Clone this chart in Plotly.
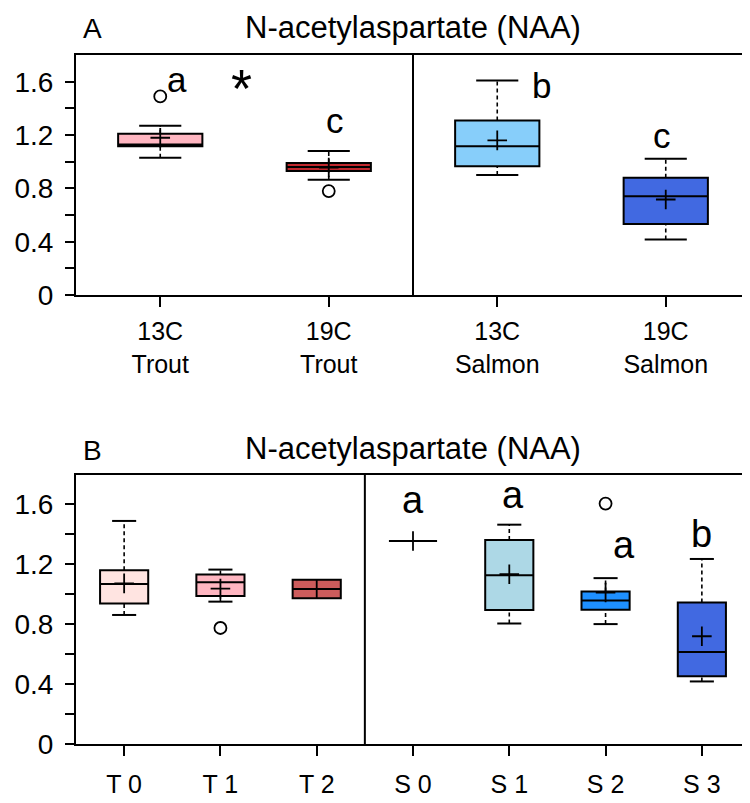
import plotly.graph_objects as go

# ---------------- Panel A data ----------------
a_labels = ["13C<br>Trout", "19C<br>Trout", "13C<br>Salmon", "19C<br>Salmon"]
a_q1 = [1.117, 0.93, 0.967, 0.533]
a_median = [1.13, 0.96, 1.117, 0.741]
a_q3 = [1.21, 0.99, 1.31, 0.881]
a_low = [1.03, 0.866, 0.90, 0.417]
a_high = [1.27, 1.08, 1.61, 1.023]
a_mean = [1.18, 0.957, 1.16, 0.717]
a_colors = ["#FFB6C1", "#C0282D", "#87CEFA", "#4169E1"]
a_out_x = [0, 1]
a_out_y = [1.49, 0.78]
a_letters = ["a", "c", "b", "c"]
a_letter_x = [0.10, 1.04, 2.26, 2.98]
a_letter_y = [1.62, 1.31, 1.57, 1.20]

# ---------------- Panel B data ----------------
b_labels = ["T 0", "T 1", "T 2", "S 0", "S 1", "S 2", "S 3"]
b_q1 = [0.938, 0.988, 0.973, 1.356, 0.895, 0.897, 0.453]
b_median = [1.069, 1.08, 1.036, 1.356, 1.128, 0.958, 0.614]
b_q3 = [1.16, 1.132, 1.097, 1.356, 1.363, 1.019, 0.945]
b_low = [0.862, 0.951, 0.973, 1.356, 0.805, 0.801, 0.418]
b_high = [1.49, 1.165, 1.097, 1.356, 1.465, 1.108, 1.236]
b_mean = [1.073, 1.038, 1.036, 1.356, 1.134, 1.012, 0.72]
b_colors = ["#FFE4E1", "#FFB6C1", "#CD5C5C", "rgba(0,0,0,0)", "#ADD8E6", "#1E90FF", "#4169E1"]
b_out_x = [1, 5]
b_out_y = [0.775, 1.606]
b_letters = ["a", "a", "a", "b"]
b_letter_x = [3.0, 4.04, 5.19, 6.0]
b_letter_y = [1.63, 1.66, 1.33, 1.40]

W, H = 750, 803
FONT = "Liberation Sans, Arial, sans-serif"
BOX_W = 0.5
CAP_HALF = 0.125

fig = go.Figure()


def add_panel(xa, ya, q1, med, q3, lo, hi, mean, colors, out_x, out_y):
    n = len(q1)
    # dashed whisker stems
    wx, wy = [], []
    for i in range(n):
        wx += [i, i, None, i, i, None]
        wy += [q3[i], hi[i], None, lo[i], q1[i], None]
    fig.add_trace(go.Scatter(x=wx, y=wy, mode="lines",
                             line=dict(color="black", width=1.6, dash="4px,3px"),
                             xaxis=xa, yaxis=ya, showlegend=False, hoverinfo="skip"))
    # whisker caps
    cx, cy = [], []
    for i in range(n):
        if hi[i] > q3[i]:
            cx += [i - CAP_HALF, i + CAP_HALF, None]
            cy += [hi[i], hi[i], None]
        if lo[i] < q1[i]:
            cx += [i - CAP_HALF, i + CAP_HALF, None]
            cy += [lo[i], lo[i], None]
    fig.add_trace(go.Scatter(x=cx, y=cy, mode="lines",
                             line=dict(color="black", width=2),
                             xaxis=xa, yaxis=ya, showlegend=False, hoverinfo="skip"))
    # boxes
    for i in range(n):
        fig.add_trace(go.Box(
            x=[i], q1=[q1[i]], median=[med[i]], q3=[q3[i]],
            lowerfence=[q1[i]], upperfence=[q3[i]],
            width=BOX_W, whiskerwidth=0,
            fillcolor=colors[i], line=dict(color="black", width=2),
            xaxis=xa, yaxis=ya, showlegend=False, hoverinfo="skip"))
    fig.add_trace(go.Scatter(
        x=list(range(n)), y=mean, mode="markers",
        marker=dict(symbol="cross-thin", size=14, line=dict(color="black", width=1.8)),
        xaxis=xa, yaxis=ya, showlegend=False, hoverinfo="skip"))
    fig.add_trace(go.Scatter(
        x=out_x, y=out_y, mode="markers",
        marker=dict(symbol="circle-open", size=12, color="black", line=dict(color="black", width=1.8)),
        xaxis=xa, yaxis=ya, showlegend=False, hoverinfo="skip"))


add_panel("x", "y", a_q1, a_median, a_q3, a_low, a_high, a_mean, a_colors, a_out_x, a_out_y)
add_panel("x2", "y2", b_q1, b_median, b_q3, b_low, b_high, b_mean, b_colors, b_out_x, b_out_y)

axis_common = dict(showline=True, linecolor="black", linewidth=2, mirror=True,
                   showgrid=False, zeroline=False, ticks="outside", tickcolor="black",
                   tickwidth=2)

yaxis_common = dict(axis_common, range=[0, 1.8], tickvals=[0, 0.4, 0.8, 1.2, 1.6],
                    ticktext=["0", "0.4", "0.8", "1.2", "1.6"], ticklen=9,
                    ticklabelstandoff=6,
                    minor=dict(tickvals=[0.2, 0.6, 1.0, 1.4], ticks="outside",
                               ticklen=9, tickcolor="black", tickwidth=2),
                    tickfont=dict(family=FONT, size=28, color="black"))

fig.update_layout(
    width=W, height=H,
    margin=dict(l=0, r=0, t=0, b=0),
    paper_bgcolor="white", plot_bgcolor="white",
    xaxis=dict(axis_common, domain=[68 / W, 742 / W], range=[-0.5, 3.5], anchor="y",
               tickvals=list(range(4)), ticktext=a_labels, ticklen=10,
               ticklabelstandoff=3,
               tickfont=dict(family=FONT, size=25, color="black")),
    yaxis=dict(yaxis_common, domain=[1 - 293 / H, 1 - 48 / H], anchor="x"),
    xaxis2=dict(axis_common, domain=[68 / W, 742 / W], range=[-0.5, 6.5], anchor="y2",
                tickvals=list(range(7)), ticktext=b_labels, ticklen=10,
                ticklabelstandoff=7,
                tickfont=dict(family=FONT, size=25, color="black")),
    yaxis2=dict(yaxis_common, domain=[1 - 751 / H, 1 - 476 / H], anchor="x2"),
)

# divider lines
fig.add_shape(type="line", xref="x", yref="y domain", x0=1.5, x1=1.5, y0=0, y1=1,
              line=dict(color="black", width=2))
fig.add_shape(type="line", xref="x2", yref="y2 domain", x0=2.5, x1=2.5, y0=0, y1=1,
              line=dict(color="black", width=2))

# letters
for t, x, y in zip(a_letters, a_letter_x, a_letter_y):
    fig.add_annotation(x=x, y=y, xref="x", yref="y", text=t, showarrow=False,
                       font=dict(family=FONT, size=35, color="black"),
                       xanchor="center", yanchor="middle")
fig.add_annotation(x=0.48, y=1.55, xref="x", yref="y", text="*", showarrow=False,
                   font=dict(family=FONT, size=54, color="black"),
                   xanchor="center", yanchor="middle")
for t, x, y in zip(b_letters, b_letter_x, b_letter_y):
    fig.add_annotation(x=x, y=y, xref="x2", yref="y2", text=t, showarrow=False,
                       font=dict(family=FONT, size=38, color="black"),
                       xanchor="center", yanchor="middle")

# titles and panel labels
for ty, ly, lab in [(20, 21, "A"), (449, 452, "B")]:
    fig.add_annotation(x=405 / W, y=1 - ty / H, xref="paper", yref="paper",
                       text="N-acetylaspartate (NAA)", showarrow=False,
                       font=dict(family=FONT, size=31, color="black"),
                       xanchor="center", yanchor="middle")
    fig.add_annotation(x=84 / W, y=1 - ly / H, xref="paper", yref="paper", text=lab,
                       showarrow=False, font=dict(family=FONT, size=28, color="black"),
                       xanchor="center", yanchor="middle")

fig.write_html("out.html")
